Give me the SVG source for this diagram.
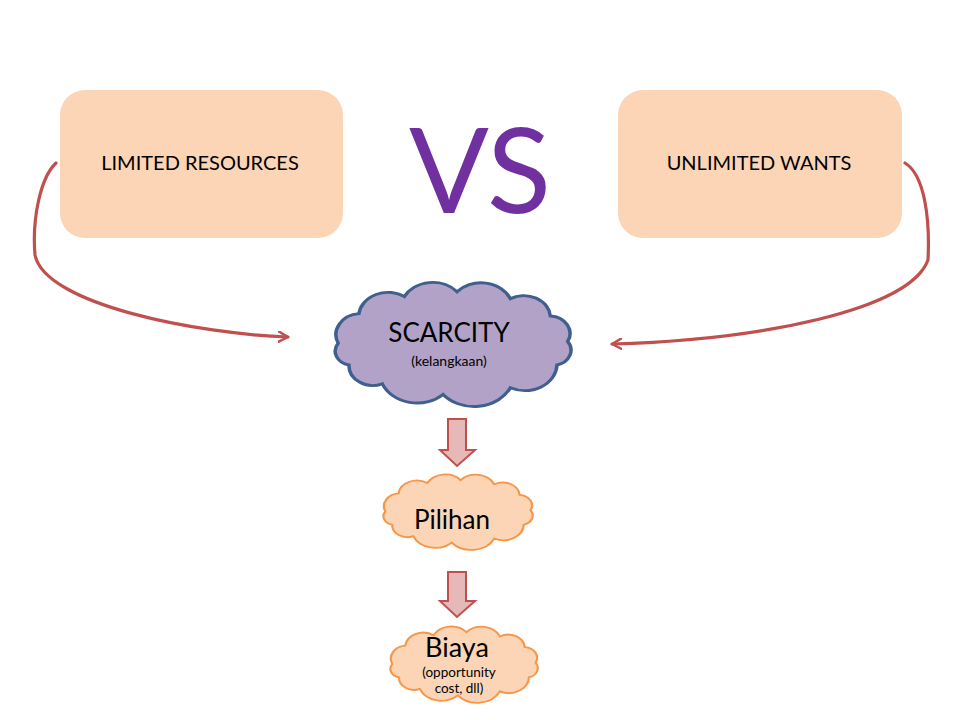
<svg xmlns="http://www.w3.org/2000/svg" width="960" height="720" viewBox="0 0 960 720">
<style>
.box{fill:#FBD5B5;}
.lbl{font-family:Lato,"Open Sans","Liberation Sans",sans-serif;fill:#000;text-anchor:middle;}
.conn{fill:none;stroke:#C0504D;stroke-width:3.2;stroke-linecap:round;}
.blk{fill:#E6B9B8;stroke:#C0504D;stroke-width:2;stroke-linejoin:miter;}
.cloud{vector-effect:non-scaling-stroke;stroke-width:2.5;}
</style>
<defs>
<path id="cloudShape" d="M18,60 A18,18 0 0 1 32.8,34.7 A21,21 0 0 1 65.3,20.1 A23,23 0 0 1 102.9,16 A23,23 0 0 1 141,21.9 A19,19 0 0 1 169.5,36.7 A15,15 0 0 1 181.9,58.5 A13,13 0 0 1 174.3,78.6 A23,23 0 0 1 141,98.1 A29,29 0 0 1 92.9,103.8 A27,27 0 0 1 49.5,94.7 A17,17 0 0 1 25.7,78.6 A12,12 0 0 1 18,60 Z"/>
<marker id="open" viewBox="0 0 12 12" refX="10" refY="6" markerWidth="12" markerHeight="12" markerUnits="userSpaceOnUse" orient="auto">
<path d="M1,1 L10,6 L1,11" fill="none" stroke="#C0504D" stroke-width="2.5" stroke-linecap="round" stroke-linejoin="round"/>
</marker>
</defs>
<rect width="960" height="720" fill="#fff"/>
<g id="limited">
<rect class="box" x="60" y="90" width="283" height="148" rx="25"/>
<text class="lbl" x="200" y="170" font-size="20">LIMITED RESOURCES</text>
</g>
<g id="unlimited">
<rect class="box" x="618" y="90" width="284" height="148" rx="25"/>
<text class="lbl" x="759" y="170" font-size="20">UNLIMITED WANTS</text>
</g>
<g id="vs">
<text x="480" y="213" font-family="Lato,'Open Sans','Liberation Sans',sans-serif" font-size="118" fill="#7030A0" text-anchor="middle">VS</text>
</g>
<g id="connectors">
<path class="conn" d="M56,163 C40,178 32,220 35,255 C45,305 200,334 288,337" marker-end="url(#open)"/>
<path class="conn" d="M905,163 C925,175 930,220 928,260 C910,310 760,340 612,344" marker-end="url(#open)"/>
<path class="blk" d="M448,419 H466 V450 H475 L457,466 L440,450 H448 Z"/>
<path class="blk" d="M448,572 H466 V601 H475 L457,617 L440,601 H448 Z"/>
</g>
<g id="scarcity">
<use href="#cloudShape" transform="translate(313,273) scale(1.40,1.17)" fill="#B3A2C7" stroke="#3F5F8F" class="cloud"/>
<text class="lbl" x="449" y="342" font-size="26">SCARCITY</text>
<text class="lbl" x="449" y="366" font-size="14">(kelangkaan)</text>
</g>
<g id="pilihan">
<use href="#cloudShape" transform="translate(369.4,468.7) scale(0.886,0.712)" fill="#FBD5B5" stroke="#F79646" class="cloud"/>
<text class="lbl" x="452" y="529" font-size="26">Pilihan</text>
</g>
<g id="biaya">
<use href="#cloudShape" transform="translate(376.5,620.7) scale(0.875,0.72)" fill="#FBD5B5" stroke="#F79646" class="cloud"/>
<text class="lbl" x="457" y="657" font-size="27">Biaya</text>
<text class="lbl" x="459" y="677" font-size="13.5">(opportunity</text>
<text class="lbl" x="459" y="693" font-size="13.5">cost, dll)</text>
</g>
</svg>
